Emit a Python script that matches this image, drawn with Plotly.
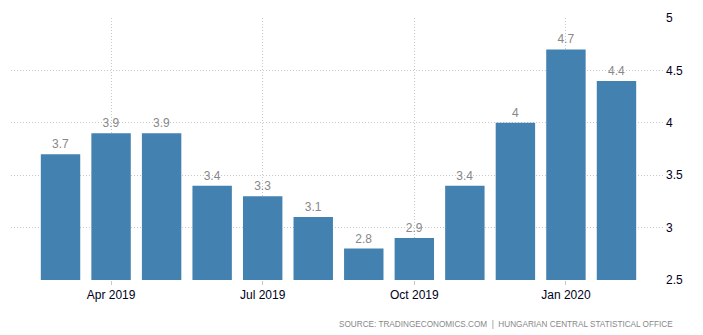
import plotly.graph_objects as go

months = ["Mar 2019", "Apr 2019", "May 2019", "Jun 2019", "Jul 2019", "Aug 2019",
          "Sep 2019", "Oct 2019", "Nov 2019", "Dec 2019", "Jan 2020", "Feb 2020"]
values = [3.7, 3.9, 3.9, 3.4, 3.3, 3.1, 2.8, 2.9, 3.4, 4.0, 4.7, 4.4]
labels = ["3.7", "3.9", "3.9", "3.4", "3.3", "3.1", "2.8", "2.9", "3.4", "4", "4.7", "4.4"]
tick_months = ["Apr 2019", "Jul 2019", "Oct 2019", "Jan 2020"]
y_ticks = [2.5, 3, 3.5, 4, 4.5, 5]

fig = go.Figure()
fig.add_trace(go.Bar(
    x=months, y=values, text=labels, textposition="outside",
    textfont=dict(color="#888888", size=12, family="Liberation Sans, Arial"),
    marker=dict(color="#4382b0", line=dict(width=0)),
    cliponaxis=False,
))

fig.update_layout(
    width=703, height=335,
    margin=dict(l=11, r=38, t=16, b=55),
    plot_bgcolor="white", paper_bgcolor="white",
    bargap=0.22,
    showlegend=False,
    font=dict(family="Liberation Sans, Arial", size=12, color="#111111"),
    xaxis=dict(
        type="category", range=[-0.98, 11.96],
        tickvals=tick_months, ticktext=tick_months,
        showgrid=True, gridcolor="#c8c8c8", griddash="1px,2px", gridwidth=1,
        ticks="outside", ticklen=4, tickcolor="#c8c8c8",
        showline=False, zeroline=False,
        tickfont=dict(size=12, color="#000022"),
    ),
    yaxis=dict(
        side="right", range=[2.5, 5], tickvals=y_ticks,
        showgrid=True, gridcolor="#c8c8c8", griddash="1px,2px", gridwidth=1,
        zeroline=False, showline=False, ticks="",
        tickfont=dict(size=12, color="#000022"),
    ),
    annotations=[dict(
        text="SOURCE: TRADINGECONOMICS.COM  |  HUNGARIAN CENTRAL STATISTICAL OFFICE",
        xref="paper", yref="paper", x=1.015, y=-0.17, xanchor="right", yanchor="middle",
        showarrow=False, font=dict(size=8.2, color="#888888", family="Liberation Sans, Arial"),
    )],
)

fig.write_html("out.html")
